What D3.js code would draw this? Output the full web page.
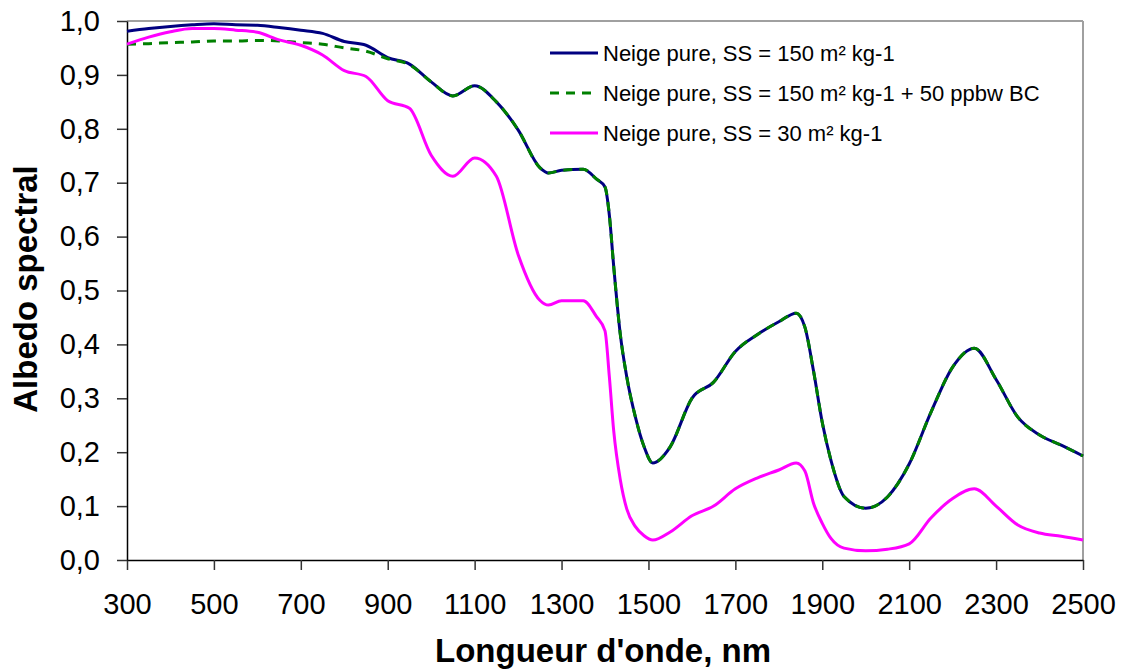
<!DOCTYPE html>
<meta charset="utf-8">
<head>
  <title>Albedo spectral</title>
</head>
<style>
  body { margin: 0; background: #fff; }
  .tick text { font-family: Arial, "Liberation Sans", sans-serif; font-size: 29px; fill: #000; }
  .tick line { stroke: #333; stroke-width: 1.5; }
  .domain { stroke: #000; stroke-width: 1.5; }
  .title { font-family: Arial, "Liberation Sans", sans-serif; font-weight: bold; font-size: 33px; fill: #000; }
  .legend { font-family: Arial, "Liberation Sans", sans-serif; font-size: 22px; fill: #000; }
</style>
<body>
<svg id="chart" width="1124" height="671"></svg>
<script src="https://cdnjs.cloudflare.com/ajax/libs/d3/7.8.5/d3.min.js"></script>
<script>
// wavelengths (nm)
var wavelengths = [300, 350, 400, 450, 500, 550, 600, 650, 700, 750, 800, 850, 900, 950, 1000,
  1050, 1100, 1150, 1200, 1250, 1270, 1300, 1350, 1380, 1400, 1410, 1420, 1435, 1450, 1470,
  1490, 1510, 1550, 1600, 1650, 1700, 1750, 1800, 1840, 1860, 1880, 1900, 1920, 1950, 2000,
  2050, 2100, 2150, 2200, 2250, 2300, 2350, 2400, 2450, 2500];

// Neige pure, SS = 150
var pure150 = [0.981, 0.986, 0.990, 0.993, 0.995, 0.993, 0.992, 0.988, 0.983, 0.977, 0.962, 0.955, 0.932, 0.920, 0.887,
  0.861, 0.880, 0.850, 0.798, 0.728, 0.718, 0.723, 0.725, 0.707, 0.692, 0.640, 0.545, 0.420, 0.340, 0.265,
  0.210, 0.180, 0.210, 0.300, 0.330, 0.387, 0.418, 0.442, 0.458, 0.432, 0.350, 0.255, 0.185, 0.118, 0.096,
  0.117, 0.178, 0.274, 0.358, 0.393, 0.335, 0.265, 0.232, 0.213, 0.193];

// Neige pure, SS = 150 + 50 ppbw BC
var bc150 = [0.957, 0.958, 0.960, 0.961, 0.963, 0.963, 0.964, 0.963, 0.960, 0.957, 0.950, 0.944, 0.930, 0.919, 0.887,
  0.861, 0.880, 0.850, 0.798, 0.728, 0.718, 0.723, 0.725, 0.707, 0.692, 0.640, 0.545, 0.420, 0.340, 0.265,
  0.210, 0.180, 0.210, 0.300, 0.330, 0.387, 0.418, 0.442, 0.458, 0.432, 0.350, 0.255, 0.185, 0.118, 0.096,
  0.117, 0.178, 0.274, 0.358, 0.393, 0.335, 0.265, 0.232, 0.213, 0.193];

// Neige pure, SS = 30
var pure30 = [0.957, 0.970, 0.980, 0.986, 0.986, 0.983, 0.979, 0.965, 0.955, 0.937, 0.908, 0.897, 0.852, 0.838, 0.751,
  0.712, 0.746, 0.712, 0.567, 0.482, 0.473, 0.481, 0.481, 0.452, 0.425, 0.340, 0.240, 0.150, 0.095, 0.062,
  0.045, 0.037, 0.052, 0.082, 0.100, 0.132, 0.152, 0.167, 0.180, 0.165, 0.105, 0.068, 0.040, 0.022, 0.017,
  0.020, 0.030, 0.078, 0.114, 0.132, 0.100, 0.065, 0.050, 0.044, 0.037];

var xTicks = [300, 500, 700, 900, 1100, 1300, 1500, 1700, 1900, 2100, 2300, 2500];
var yTicks = [0, 0.1, 0.2, 0.3, 0.4, 0.5, 0.6, 0.7, 0.8, 0.9, 1.0];

var series = [
  { name: "Neige pure, SS = 150 m² kg-1", values: pure150, color: "#000080", dash: null },
  { name: "Neige pure, SS = 150 m² kg-1 + 50 ppbw BC", values: bc150, color: "#008000", dash: "9,7" },
  { name: "Neige pure, SS = 30 m² kg-1", values: pure30, color: "#ff00ff", dash: null }
];

var plotLeft = 127, plotRight = 1083, plotTop = 21, plotBottom = 560;

var svg = d3.select("#chart");

var x = d3.scaleLinear().domain([300, 2500]).range([plotLeft, plotRight]);
var y = d3.scaleLinear().domain([0, 1]).range([plotBottom, plotTop]);

var fr = d3.formatLocale({ decimal: ",", thousands: " ", grouping: [3], currency: ["", ""] });

// top / right border
svg.append("line").attr("x1", plotLeft).attr("x2", plotRight).attr("y1", plotTop).attr("y2", plotTop)
  .style("stroke", "#a0a0a0").style("stroke-width", 2);
svg.append("line").attr("x1", plotRight).attr("x2", plotRight).attr("y1", plotTop).attr("y2", plotBottom)
  .style("stroke", "#a0a0a0").style("stroke-width", 2);

svg.append("g")
  .attr("transform", "translate(0," + plotBottom + ")")
  .call(d3.axisBottom(x).tickValues(xTicks).tickFormat(d3.format("d")).tickSize(10).tickSizeOuter(0).tickPadding(23));

svg.append("g")
  .attr("transform", "translate(" + plotLeft + ",0)")
  .call(d3.axisLeft(y).tickValues(yTicks).tickFormat(fr.format(".1f")).tickSize(10).tickSizeOuter(0).tickPadding(17));

var line = d3.line()
  .x(function(d, i) { return x(wavelengths[i]); })
  .y(function(d) { return y(d); })
  .curve(d3.curveMonotoneX);

series.forEach(function(s) {
  svg.append("path")
    .datum(s.values)
    .attr("d", line)
    .style("fill", "none")
    .style("stroke", s.color)
    .style("stroke-width", 3)
    .style("stroke-dasharray", s.dash);
});

// legend
var lg = svg.append("g").attr("transform", "translate(550,53)");
series.forEach(function(s, i) {
  lg.append("line")
    .attr("x1", 0).attr("x2", 48).attr("y1", i * 40).attr("y2", i * 40)
    .style("stroke", s.color).style("stroke-width", 3)
    .style("stroke-dasharray", s.dash);
  lg.append("text")
    .attr("class", "legend")
    .attr("x", 53).attr("y", i * 40 + 8)
    .text(s.name);
});

svg.append("text").attr("class", "title")
  .attr("text-anchor", "middle")
  .attr("x", 603).attr("y", 662)
  .text("Longueur d'onde, nm");

svg.append("text").attr("class", "title")
  .attr("text-anchor", "middle")
  .attr("transform", "translate(37,289) rotate(-90)")
  .text("Albedo spectral");
</script>
</body>
